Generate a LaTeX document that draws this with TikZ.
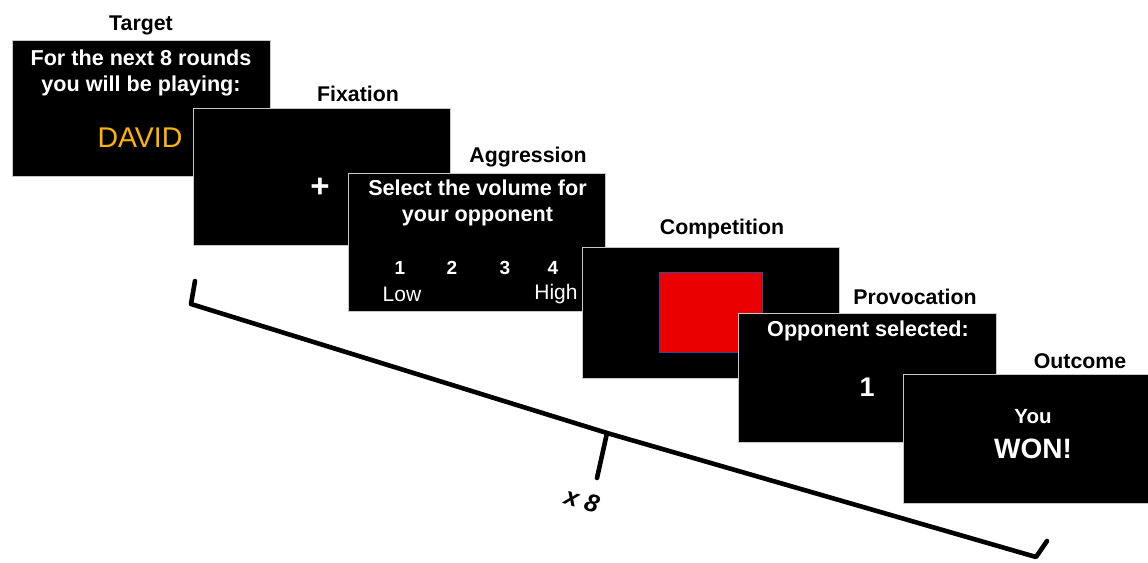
\documentclass[tikz,border=0pt]{standalone}
\usepackage{fontspec}
\setmainfont{Liberation Sans}
\usetikzlibrary{positioning}
\definecolor{scrgray}{RGB}{200,200,200}
\definecolor{davidorange}{RGB}{255,180,0}
\definecolor{cuered}{RGB}{235,0,0}
\definecolor{cueedge}{RGB}{60,70,140}

\begin{document}
\begin{tikzpicture}[x=1pt,y=-1pt,
  screen/.style={draw=scrgray,line width=0.8pt,fill=black,minimum width=257pt,minimum height=134pt,inner sep=0pt},
  ttl/.style={font=\fontsize{21.3}{24}\selectfont\bfseries},
  msg/.style={text=white,font=\fontsize{21.6}{26}\selectfont\bfseries,align=center},
  lbl/.style={text=white,font=\fontsize{21}{24}\selectfont},
  brace/.style={line width=4.6pt,line cap=round,line join=round}
]
  \useasboundingbox[fill=white] (0,0) rectangle (1148,562);
  % Target
  \node[ttl] (tgtT) at (141,25) {Target};
  \node[screen,minimum width=258pt,minimum height=136pt] (tgt) at (141,108) {};
  \node[msg] (tgtM) at (141,72.5) {For the next 8 rounds\\you will be playing:};
  \node[text=davidorange,font=\fontsize{28.5}{30}\selectfont] (david) at (140,138) {DAVID};
  % Fixation
  \node[ttl] (fixT) at (358,94) {Fixation};
  \node[screen,minimum height=137pt] (fix) at (322,176.5) {};
  \node[msg,font=\fontsize{33}{34}\selectfont\bfseries] (cross) at (320,188) {+};
  % Aggression
  \node[ttl] (aggT) at (528,157) {Aggression};
  \node[screen,minimum height=138pt] (agg) at (477,242) {};
  \node[msg] (aggM) at (477.5,203) {Select the volume for\\your opponent};
  \foreach \v/\x in {1/400,2/452,3/505,4/553}
    \node[msg,font=\fontsize{19}{20}\selectfont\bfseries] (vol\v) at (\x,268) {\v};
  \node[lbl] (low) at (402,294) {Low};
  \node[lbl] (high) at (556,294) {High};
  % Competition
  \node[ttl] (compT) at (722,229) {Competition};
  \node[screen,minimum height=131pt] (comp) at (711,312.5) {};
  \node[draw=cueedge,line width=0.6pt,fill=cuered,minimum width=103pt,minimum height=80pt,inner sep=0pt] (cue) at (comp.center) {};
  % Provocation
  \node[ttl] (provT) at (915,297) {Provocation};
  \node[screen,minimum width=258pt,minimum height=129pt] (prov) at (867,377.5) {};
  \node[msg] (provM) at (868,331) {Opponent selected:};
  \node[msg,font=\fontsize{27}{30}\selectfont\bfseries] (provN) at (867,387) {1};
  % Outcome
  \node[ttl] (outT) at (1080,361) {Outcome};
  \node[screen,minimum height=129pt] (outc) at (1032,438.5) {};
  \node[msg,font=\fontsize{20.5}{22}\selectfont\bfseries] (you) at (1033,417) {You};
  \node[msg,font=\fontsize{28}{30}\selectfont\bfseries] (won) at (1033,449) {WON!};
  % Repetition brace
  \coordinate (bL) at (195,281);
  \coordinate (bLc) at (191,304);
  \coordinate (bM) at (607,433);
  \coordinate (bTip) at (597,478);
  \coordinate (bRc) at (1036,557);
  \coordinate (bR) at (1047,541);
  \draw[brace] (bL) -- (bLc) -- (bM) -- (bRc) -- (bR);
  \draw[brace] (bM) -- (bTip);
  \node[font=\fontsize{25}{28}\selectfont\bfseries\itshape,rotate=-17] (reps) at (582,500) {x 8};
\end{tikzpicture}
\end{document}
